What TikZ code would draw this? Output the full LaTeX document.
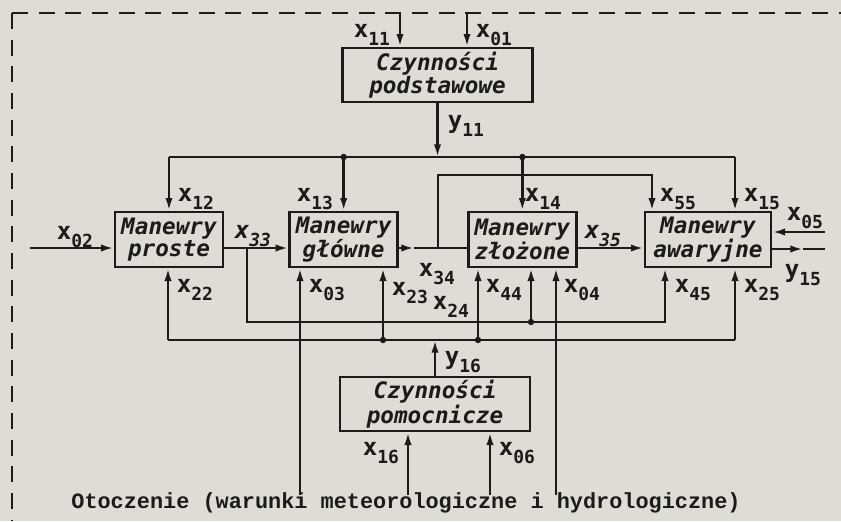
\documentclass[tikz,border=0pt]{standalone}
\usepackage{fontspec}
\usepackage{tikz}
\usetikzlibrary{arrows.meta,positioning}
\newfontfamily\gothfont{DejaVu Sans Mono}
\newfontfamily\typefont{Liberation Mono}
\definecolor{Paper}{HTML}{DEDCD4}
\definecolor{Ink}{HTML}{1C1B1A}
\newcommand{\sgl}[2]{#1\raisebox{-6pt}{\fontsize{13.5}{14}\selectfont #2}}
\tikzset{
  box/.style={draw=Ink,fill=Paper,line width=2pt,align=center,font=\fontsize{17}{14.5}\gothfont\bfseries\itshape,text=Ink,inner sep=0pt},
  rowbox/.style={box,minimum width=81pt,minimum height=41.25pt},
  wide/.style={box,minimum width=142.5pt,minimum height=40.5pt},
  lab/.style={font=\fontsize{18}{20}\gothfont\bfseries,text=Ink,inner sep=0pt},
  labit/.style={lab,font=\fontsize{18}{20}\gothfont\bfseries\itshape},
  wire/.style={draw=Ink,line width=1.8pt},
  arr/.style={wire,-{Latex[length=9.5pt,width=5.5pt]}},
  dashframe/.style={draw=Ink,line width=1.8pt,dash pattern=on 12pt off 8pt}
}

\begin{document}
\begin{tikzpicture}[x=0.75pt,y=-0.75pt]
  \fill[Paper] (0,0) rectangle (841,521);
  \useasboundingbox (0,0) rectangle (841,521);
  \draw[dashframe] (12,13) -- (12,521);
  \draw[dashframe] (12,13) -- (841,13);

  % blocks
  \node[wide] (podst) at (437.5,75) {Czynności\\podstawowe};
  \node[rowbox] (proste) at (169,239.5) {Manewry\\proste};
  \node[rowbox,right=48pt of proste] (glowne) {Manewry\\główne};
  \node[rowbox,right=51pt of glowne] (zlozone) {Manewry\\złożone};
  \node[rowbox,minimum width=94.5pt,right=49.5pt of zlozone] (awaryjne) {Manewry\\awaryjne};
  \node[wide] (pomoc) at (435,404) {Czynności\\pomocnicze};
  \node[font=\fontsize{16.4}{18}\typefont\bfseries,text=Ink,inner sep=0pt] (otocz) at (406,503)
    {Otoczenie (warunki meteorologiczne i hydrologiczne)};

  % bus levels
  \coordinate (topbus) at (0,157);
  \coordinate (row) at (0,248);
  \coordinate (lowB) at (0,340);

  % inputs from the top
  \coordinate (in11) at (400,13);
  \coordinate (in01) at (467,13);
  \draw[arr] (in11) -- (in11 |- podst.north);
  \draw[arr] (in01) -- (in01 |- podst.north);
  \draw[arr] (podst.south) -- (podst.south |- topbus);

  % upper distribution
  \coordinate (c15) at (735,157);
  \draw[wire] (proste.north |- topbus) -- (c15);
  \draw[arr] (proste.north |- topbus) -- (proste.north);
  \draw[arr] (glowne.north |- topbus) -- (glowne.north);
  \draw[arr] (zlozone.north |- topbus) -- (zlozone.north);
  \draw[arr] (c15) -- (c15 |- awaryjne.north);
  \fill[Ink] (glowne.north |- topbus) circle (2.4pt);
  \fill[Ink] (zlozone.north |- topbus) circle (2.4pt);

  % main chain
  \coordinate (in02) at (30,248);
  \coordinate (gzmid) at (414,248);
  \coordinate (gzjoin) at (438,248);
  \coordinate (c55) at (652,175);
  \draw[arr] (in02) -- (in02 -| proste.west);
  \draw[arr] (proste.east |- row) -- (glowne.west |- row);
  \draw[arr] (glowne.east |- row) -- (gzmid);
  \draw[wire] (gzmid) -- (zlozone.west |- row);
  \draw[arr] (gzjoin) |- (c55) -- (c55 |- awaryjne.north);
  \draw[arr] (zlozone.east |- row) -- (awaryjne.west |- row);

  % right side
  \coordinate (in05) at (825,232);
  \coordinate (mid15) at (803,249);
  \coordinate (out15) at (825,249);
  \draw[arr] (in05) -- (in05 -| awaryjne.east);
  \draw[arr] (awaryjne.east |- mid15) -- (mid15);
  \draw[wire] (mid15) -- (out15);

  % lower feedback
  \coordinate (c33) at (247,248);
  \coordinate (c45) at (665,322);
  \coordinate (c44) at (531,322);
  \draw[arr] (c33) |- (c45) -- (c45 |- awaryjne.south);
  \draw[arr] (c44) -- (c44 |- zlozone.south);
  \fill[Ink] (c44) circle (2.4pt);

  \coordinate (c22) at (168,340);
  \coordinate (c23) at (383,340);
  \coordinate (c24) at (478,340);
  \coordinate (c25) at (735,340);
  \draw[wire] (c22) -- (c25);
  \draw[arr] (c22) -- (c22 |- proste.south);
  \draw[arr] (c23) -- (c23 |- glowne.south);
  \draw[arr] (c24) -- (c24 |- zlozone.south);
  \draw[arr] (c25) -- (c25 |- awaryjne.south);
  \fill[Ink] (c23) circle (2.4pt);
  \fill[Ink] (c24) circle (2.4pt);
  \draw[arr] (pomoc.north) -- (pomoc.north |- lowB);

  % inputs from the environment
  \coordinate (in03) at (300,495);
  \coordinate (in04) at (556,495);
  \coordinate (in16) at (408,495);
  \coordinate (in06) at (490,495);
  \draw[arr] (in03) -- (in03 |- glowne.south);
  \draw[arr] (in04) -- (in04 |- zlozone.south);
  \draw[arr] (in16) -- (in16 |- pomoc.south);
  \draw[arr] (in06) -- (in06 |- pomoc.south);

  % labels
  \node[lab] (lx11) at (372,35) {\sgl{x}{11}};
  \node[lab] (lx01) at (494,35) {\sgl{x}{01}};
  \node[lab] (ly11) at (466,126) {\sgl{y}{11}};
  \node[lab] (lx12) at (196,199) {\sgl{x}{12}};
  \node[lab] (lx13) at (315,199) {\sgl{x}{13}};
  \node[lab] (lx14) at (543,199) {\sgl{x}{14}};
  \node[lab] (lx55) at (678,199) {\sgl{x}{55}};
  \node[lab] (lx15) at (762,199) {\sgl{x}{15}};
  \node[lab] (lx05) at (805,218) {\sgl{x}{05}};
  \node[lab] (lx02) at (75,237) {\sgl{x}{02}};
  \node[labit] (lx33) at (253,236) {\sgl{x}{33}};
  \node[labit] (lx35) at (603,236) {\sgl{x}{35}};
  \node[lab] (ly15) at (803,275) {\sgl{y}{15}};
  \node[lab] (lx22) at (195,290) {\sgl{x}{22}};
  \node[lab] (lx03) at (327,290) {\sgl{x}{03}};
  \node[lab] (lx34) at (437,274) {\sgl{x}{34}};
  \node[lab] (lx23) at (410,293) {\sgl{x}{23}};
  \node[lab] (lx24) at (451,307) {\sgl{x}{24}};
  \node[lab] (lx44) at (504,290) {\sgl{x}{44}};
  \node[lab] (lx04) at (582,290) {\sgl{x}{04}};
  \node[lab] (lx45) at (693,290) {\sgl{x}{45}};
  \node[lab] (lx25) at (762,290) {\sgl{x}{25}};
  \node[lab] (ly16) at (463,362) {\sgl{y}{16}};
  \node[lab] (lx16) at (381,453) {\sgl{x}{16}};
  \node[lab] (lx06) at (517,453) {\sgl{x}{06}};
\end{tikzpicture}
\end{document}
